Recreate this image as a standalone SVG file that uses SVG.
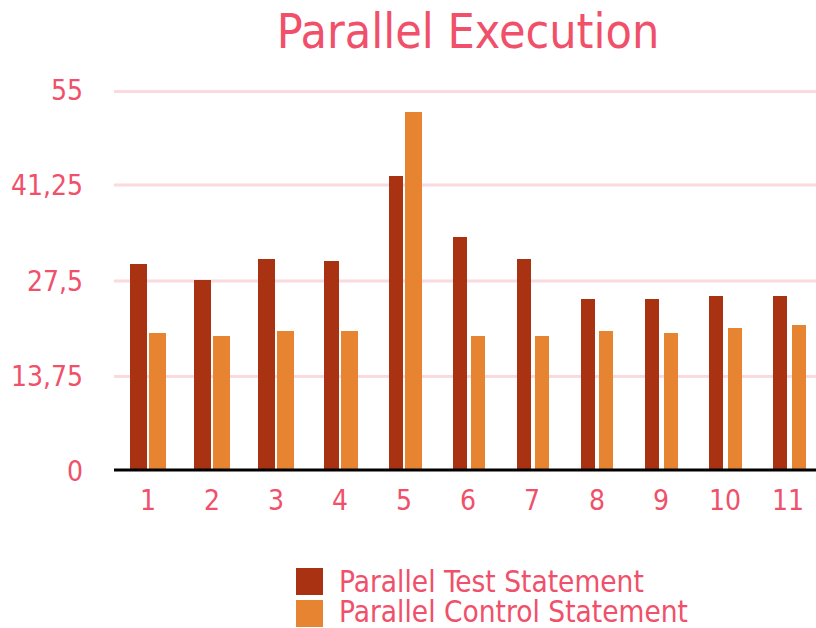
<svg xmlns="http://www.w3.org/2000/svg" width="816" height="628" viewBox="0 0 816 628">
<style>
text{font-family:'DejaVu Sans Condensed','DejaVu Sans',sans-serif;font-stretch:condensed;fill:#f0506a}
.title{font-size:48px}
.tick{font-size:28px}
.ylab{text-anchor:end}
.xlab{text-anchor:middle}
.leg{font-size:29.5px}
.grid{stroke:#fadadf;stroke-width:3}
.axis{stroke:#000;stroke-width:3}
.t{fill:#a83212}
.c{fill:#e78432}
</style>
<rect width="816" height="628" fill="#fff"/>
<text class="title" x="468" y="48" text-anchor="middle">Parallel Execution</text>
<g id="grid">
<line class="grid" x1="114" y1="91.5" x2="816" y2="91.5"/>
<line class="grid" x1="114" y1="185" x2="816" y2="185"/>
<line class="grid" x1="114" y1="281" x2="816" y2="281"/>
<line class="grid" x1="114" y1="376.5" x2="816" y2="376.5"/>
</g>
<g id="y-labels">
<text class="tick ylab" x="83" y="100">55</text>
<text class="tick ylab" x="83" y="195">41,25</text>
<text class="tick ylab" x="83" y="291">27,5</text>
<text class="tick ylab" x="83" y="386">13,75</text>
<text class="tick ylab" x="83" y="481">0</text>
</g>
<g id="bars">
<g id="g1"><rect class="t" x="130" y="264" width="17" height="205"/><rect class="c" x="149" y="333" width="17" height="136"/></g>
<g id="g2"><rect class="t" x="194" y="280" width="17" height="189"/><rect class="c" x="213" y="336" width="17" height="133"/></g>
<g id="g3"><rect class="t" x="258" y="259" width="17" height="210"/><rect class="c" x="277" y="331" width="17" height="138"/></g>
<g id="g4"><rect class="t" x="324" y="261" width="15" height="208"/><rect class="c" x="341" y="331" width="17" height="138"/></g>
<g id="g5"><rect class="t" x="389" y="176" width="14" height="293"/><rect class="c" x="405" y="112" width="17" height="357"/></g>
<g id="g6"><rect class="t" x="453" y="237" width="14" height="232"/><rect class="c" x="471" y="336" width="14" height="133"/></g>
<g id="g7"><rect class="t" x="517" y="259" width="14" height="210"/><rect class="c" x="535" y="336" width="14" height="133"/></g>
<g id="g8"><rect class="t" x="581" y="299" width="14" height="170"/><rect class="c" x="599" y="331" width="14" height="138"/></g>
<g id="g9"><rect class="t" x="645" y="299" width="14" height="170"/><rect class="c" x="664" y="333" width="14" height="136"/></g>
<g id="g10"><rect class="t" x="709" y="296" width="14" height="173"/><rect class="c" x="728" y="328" width="14" height="141"/></g>
<g id="g11"><rect class="t" x="773" y="296" width="14" height="173"/><rect class="c" x="792" y="325" width="14" height="144"/></g>
</g>
<line class="axis" x1="114" y1="470" x2="816" y2="470"/>
<g id="x-labels">
<text class="tick xlab" x="148" y="510">1</text>
<text class="tick xlab" x="212" y="510">2</text>
<text class="tick xlab" x="276" y="510">3</text>
<text class="tick xlab" x="340" y="510">4</text>
<text class="tick xlab" x="404" y="510">5</text>
<text class="tick xlab" x="468" y="510">6</text>
<text class="tick xlab" x="532" y="510">7</text>
<text class="tick xlab" x="597" y="510">8</text>
<text class="tick xlab" x="661" y="510">9</text>
<text class="tick xlab" x="725" y="510">10</text>
<text class="tick xlab" x="788" y="510">11</text>
</g>
<g id="legend">
<rect class="t" x="296" y="568" width="27" height="27"/>
<text class="leg" x="339" y="592">Parallel Test Statement</text>
<rect class="c" x="296" y="600" width="27" height="27"/>
<text class="leg" x="339" y="622">Parallel Control Statement</text>
</g>
</svg>
